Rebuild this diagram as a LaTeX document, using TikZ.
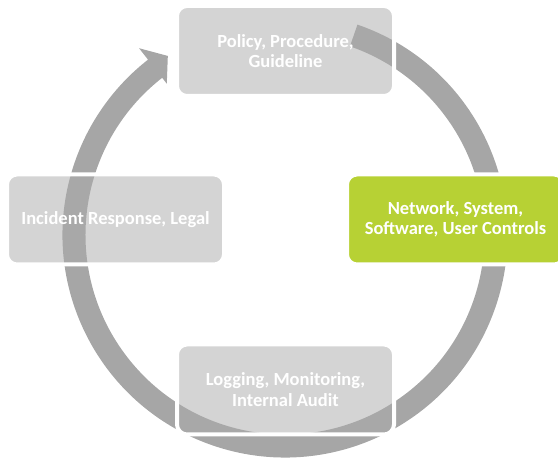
\documentclass[tikz,border=0pt]{standalone}
\usepackage{fontspec}
\setmainfont{Carlito}
\definecolor{ringgray}{RGB}{166,166,166}
\definecolor{boxgray}{RGB}{170,170,170}
\definecolor{leaf}{RGB}{183,209,52}
\begin{document}
\begin{tikzpicture}[x=1pt,y=1pt,
    stage/.style={rounded corners=10pt, minimum width=217pt, minimum height=90pt,
      fill=boxgray, fill opacity=0.5, text opacity=1, draw=white, line width=4pt,
      text=white, font=\fontsize{18.5}{20.5}\selectfont\bfseries, align=center},
    hot/.style={stage, fill=leaf, fill opacity=1}]
    \useasboundingbox (0,0) rectangle (558,460);
    % the cycle arrow
    \begin{scope}[shift={(285,225)}]
        \fill[ringgray] (71:222.5) arc[start angle=71, end angle=-232, radius=222.5]
            -- (-232:237) -- (-236.8:214) -- (-232:192)
            -- (-232:199.5) arc[start angle=-232, end angle=71, radius=199.5] -- cycle;
    \end{scope}
    \node[stage] (policy) at (285.5,409) {Policy, Procedure,\\Guideline};
    \node[hot] (controls) at (455.5,240.5) {Network, System,\\Software, User Controls};
    \node[stage] (logging) at (285.5,70.5) {Logging, Monitoring,\\Internal Audit};
    \node[stage] (incident) at (115.5,240.5) {Incident Response, Legal};
\end{tikzpicture}
\end{document}
